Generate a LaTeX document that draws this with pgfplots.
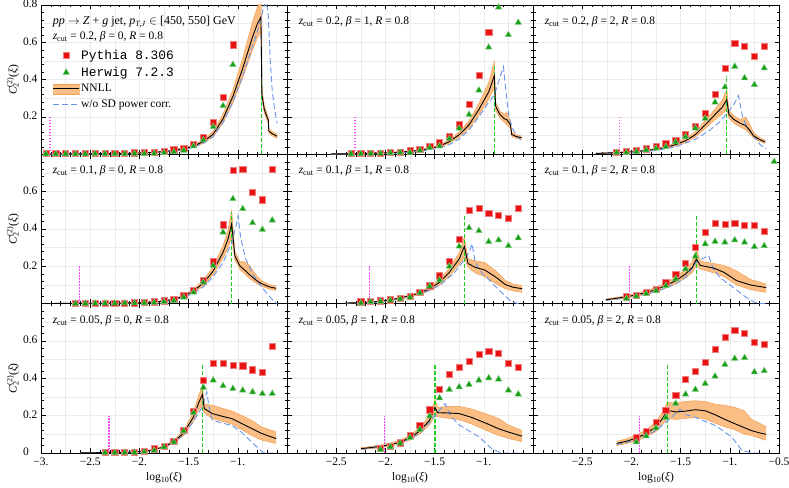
\documentclass[border=0pt]{standalone}
\usepackage{fontspec}
\setmainfont{Liberation Serif}
\setmonofont{Liberation Mono}[Scale=1.12]
\usepackage{pgfplots}
\usepackage{pgfplotstable}
\pgfplotsset{compat=1.18}
\usepgfplotslibrary{groupplots,fillbetween}
\definecolor{pyred}{RGB}{232,18,18}
\definecolor{hwgreen}{RGB}{20,158,20}
\definecolor{bandfill}{RGB}{250,190,132}
\definecolor{bandedge}{RGB}{244,158,82}
\definecolor{sdblue}{RGB}{104,150,236}
\definecolor{cutgreen}{RGB}{30,210,30}
\definecolor{npmag}{RGB}{255,70,255}
\newcommand{\myf}{\fontsize{11.5}{13.5}\selectfont}

% ---------- panel A: zcut=0.2, beta=0
\pgfplotstableread{
x y lo hi
-2.90 0.002 0.001 0.003
-2.60 0.003 0.002 0.004
-2.30 0.004 0.003 0.005
-2.10 0.006 0.005 0.007
-1.95 0.008 0.007 0.010
-1.85 0.011 0.009 0.013
-1.75 0.015 0.013 0.018
-1.65 0.021 0.018 0.025
-1.55 0.030 0.026 0.035
-1.45 0.044 0.038 0.051
-1.35 0.068 0.059 0.078
-1.25 0.108 0.095 0.123
-1.15 0.190 0.168 0.215
-1.05 0.310 0.276 0.345
-0.95 0.460 0.410 0.515
-0.85 0.630 0.560 0.710
-0.80 0.700 0.625 0.790
-0.765 0.735 0.660 0.840
-0.755 0.320 0.295 0.350
-0.73 0.240 0.222 0.260
-0.70 0.195 0.180 0.212
-0.69 0.185 0.170 0.200
-0.685 0.125 0.113 0.138
-0.65 0.110 0.099 0.122
-0.60 0.097 0.086 0.108
}\nnllA
\pgfplotstableread{
x y
-2.90 0.001
-2.30 0.003
-2.00 0.006
-1.75 0.012
-1.55 0.025
-1.45 0.037
-1.35 0.058
-1.25 0.095
-1.15 0.170
-1.05 0.280
-0.95 0.420
-0.85 0.580
-0.80 0.660
-0.76 0.740
-0.73 0.800
-0.71 0.820
-0.69 0.740
-0.67 0.500
-0.65 0.340
-0.62 0.220
-0.60 0.165
}\blueA
\pgfplotstableread{
x y
-2.95 0.004
-2.85 0.004
-2.75 0.004
-2.65 0.004
-2.55 0.004
-2.45 0.005
-2.35 0.005
-2.25 0.005
-2.15 0.006
-2.05 0.008
-1.95 0.010
-1.85 0.012
-1.75 0.018
-1.65 0.024
-1.55 0.032
-1.45 0.055
-1.35 0.092
-1.25 0.170
-1.15 0.305
-1.05 0.587
}\pyA
\pgfplotstableread{
x y
-2.95 0.002
-2.85 0.002
-2.75 0.002
-2.65 0.002
-2.55 0.002
-2.45 0.003
-2.35 0.003
-2.25 0.003
-2.15 0.003
-2.05 0.004
-1.95 0.004
-1.85 0.005
-1.75 0.008
-1.65 0.013
-1.55 0.021
-1.45 0.044
-1.35 0.076
-1.25 0.147
-1.15 0.260
-1.05 0.480
}\hwA

% ---------- panel B: zcut=0.2, beta=1
\pgfplotstableread{
x y lo hi
-2.55 0.002 0.001 0.003
-2.30 0.004 0.003 0.005
-2.05 0.007 0.006 0.008
-1.95 0.009 0.008 0.011
-1.85 0.012 0.010 0.014
-1.75 0.016 0.014 0.019
-1.65 0.022 0.019 0.025
-1.55 0.031 0.027 0.035
-1.45 0.044 0.038 0.050
-1.35 0.068 0.059 0.078
-1.25 0.105 0.092 0.120
-1.15 0.158 0.139 0.180
-1.05 0.240 0.211 0.273
-0.95 0.335 0.295 0.385
-0.893 0.421 0.356 0.498
-0.88 0.258 0.235 0.280
-0.836 0.213 0.195 0.230
-0.79 0.190 0.170 0.215
-0.768 0.187 0.160 0.225
-0.73 0.160 0.140 0.178
-0.717 0.107 0.097 0.118
-0.67 0.095 0.086 0.105
-0.616 0.089 0.080 0.098
}\nnllB
\pgfplotstableread{
x y
-2.55 0.001
-2.20 0.003
-1.90 0.007
-1.65 0.015
-1.45 0.033
-1.35 0.052
-1.25 0.082
-1.15 0.130
-1.05 0.200
-0.95 0.280
-0.893 0.316
-0.85 0.390
-0.80 0.470
-0.78 0.360
-0.75 0.220
-0.717 0.150
-0.68 0.110
-0.616 0.071
}\blueB
\pgfplotstableread{
x y
-2.35 0.004
-2.25 0.004
-2.15 0.005
-2.05 0.007
-1.95 0.009
-1.85 0.012
-1.75 0.020
-1.65 0.028
-1.55 0.044
-1.45 0.062
-1.35 0.098
-1.25 0.158
-1.15 0.267
-1.05 0.425
-0.95 0.654
}\pyB
\pgfplotstableread{
x y
-2.35 0.002
-2.25 0.003
-2.15 0.004
-2.05 0.005
-1.95 0.007
-1.85 0.009
-1.75 0.010
-1.65 0.022
-1.55 0.035
-1.45 0.044
-1.35 0.084
-1.25 0.139
-1.15 0.213
-1.05 0.343
-0.95 0.573
-0.85 0.788
-0.75 0.640
-0.65 0.706
}\hwB

% ---------- panel C: zcut=0.2, beta=2
\pgfplotstableread{
x y lo hi
-2.36 0.005 0.004 0.006
-2.15 0.009 0.008 0.011
-1.95 0.015 0.013 0.018
-1.75 0.027 0.023 0.031
-1.65 0.038 0.033 0.044
-1.55 0.052 0.045 0.060
-1.45 0.073 0.064 0.084
-1.35 0.105 0.092 0.120
-1.25 0.158 0.138 0.180
-1.15 0.213 0.186 0.243
-1.08 0.250 0.215 0.287
-1.03 0.293 0.240 0.347
-1.01 0.215 0.195 0.235
-0.96 0.187 0.168 0.207
-0.89 0.165 0.145 0.185
-0.84 0.155 0.133 0.200
-0.80 0.130 0.110 0.165
-0.76 0.100 0.088 0.118
-0.70 0.080 0.070 0.090
-0.64 0.066 0.058 0.075
}\nnllC
\pgfplotstableread{
x y
-2.36 0.004
-2.00 0.010
-1.75 0.020
-1.55 0.040
-1.35 0.080
-1.20 0.130
-1.10 0.175
-1.03 0.220
-0.96 0.265
-0.913 0.315
-0.87 0.200
-0.83 0.150
-0.76 0.100
-0.69 0.050
-0.63 0.030
}\blueC
\pgfplotstableread{
x y
-2.15 0.012
-2.05 0.016
-1.95 0.023
-1.85 0.030
-1.75 0.042
-1.65 0.057
-1.55 0.076
-1.45 0.105
-1.35 0.151
-1.25 0.222
-1.15 0.320
-1.05 0.460
-0.95 0.595
-0.85 0.581
-0.75 0.524
-0.65 0.581
}\pyC
\pgfplotstableread{
x y
-2.15 0.009
-2.05 0.009
-1.95 0.014
-1.85 0.023
-1.75 0.032
-1.65 0.041
-1.55 0.066
-1.45 0.094
-1.35 0.140
-1.25 0.192
-1.15 0.279
-1.05 0.360
-0.95 0.471
-0.85 0.409
-0.75 0.373
-0.65 0.462
}\hwC

% ---------- panel D: zcut=0.1, beta=0
\pgfplotstableread{
x y lo hi
-2.90 0.001 0.0005 0.002
-2.50 0.002 0.0015 0.003
-2.20 0.003 0.002 0.004
-2.00 0.005 0.004 0.006
-1.85 0.009 0.008 0.011
-1.75 0.014 0.012 0.016
-1.65 0.024 0.021 0.027
-1.55 0.040 0.035 0.045
-1.45 0.068 0.060 0.077
-1.35 0.110 0.097 0.125
-1.25 0.175 0.155 0.198
-1.15 0.275 0.243 0.310
-1.10 0.345 0.298 0.395
-1.062 0.427 0.355 0.498
-1.03 0.257 0.235 0.280
-0.98 0.203 0.185 0.225
-0.93 0.180 0.160 0.225
-0.88 0.155 0.135 0.205
-0.85 0.141 0.123 0.180
-0.80 0.120 0.105 0.145
-0.75 0.105 0.092 0.120
-0.68 0.090 0.078 0.103
-0.61 0.082 0.070 0.094
}\nnllD
\pgfplotstableread{
x y
-2.90 0.001
-2.20 0.003
-1.90 0.006
-1.70 0.014
-1.55 0.032
-1.45 0.055
-1.35 0.090
-1.25 0.145
-1.15 0.220
-1.06 0.330
-1.02 0.410
-0.997 0.470
-0.97 0.350
-0.92 0.240
-0.85 0.160
-0.75 0.085
-0.68 0.040
-0.63 0.010
-0.60 0.000
}\blueD
\pgfplotstableread{
x y
-2.65 0.003
-2.55 0.003
-2.45 0.003
-2.35 0.003
-2.25 0.004
-2.15 0.004
-2.05 0.005
-1.95 0.007
-1.85 0.010
-1.75 0.016
-1.65 0.024
-1.55 0.043
-1.45 0.070
-1.35 0.123
-1.25 0.225
-1.15 0.423
-1.05 0.716
-0.95 0.718
-0.85 0.597
-0.75 0.557
-0.65 0.720
}\pyD
\pgfplotstableread{
x y
-2.65 0.001
-2.55 0.001
-2.45 0.002
-2.35 0.002
-2.25 0.002
-2.15 0.003
-2.05 0.003
-1.95 0.004
-1.85 0.006
-1.75 0.010
-1.65 0.016
-1.55 0.034
-1.45 0.061
-1.35 0.114
-1.25 0.204
-1.15 0.383
-1.05 0.562
-0.95 0.508
-0.85 0.433
-0.75 0.397
-0.65 0.447
}\hwD

% ---------- panel E: zcut=0.1, beta=1
\pgfplotstableread{
x y lo hi
-2.41 0.003 0.002 0.004
-2.20 0.007 0.006 0.008
-2.05 0.013 0.011 0.015
-1.95 0.021 0.018 0.024
-1.85 0.030 0.026 0.034
-1.75 0.043 0.038 0.048
-1.65 0.057 0.050 0.064
-1.55 0.080 0.070 0.090
-1.45 0.114 0.100 0.129
-1.35 0.168 0.148 0.190
-1.25 0.239 0.210 0.272
-1.198 0.307 0.248 0.355
-1.16 0.215 0.195 0.240
-1.09 0.195 0.165 0.230
-0.99 0.180 0.145 0.220
-0.88 0.143 0.108 0.177
-0.78 0.102 0.080 0.125
-0.70 0.088 0.068 0.105
-0.61 0.080 0.060 0.097
}\nnllE
\pgfplotstableread{
x y
-2.41 0.002
-2.10 0.008
-1.85 0.022
-1.65 0.047
-1.45 0.097
-1.30 0.165
-1.198 0.235
-1.15 0.275
-1.12 0.320
-1.09 0.230
-1.05 0.180
-0.97 0.140
-0.89 0.096
-0.80 0.050
-0.72 0.010
-0.65 0.000
-0.61 0.000
}\blueE
\pgfplotstableread{
x y
-2.25 0.010
-2.15 0.012
-2.05 0.016
-1.95 0.021
-1.85 0.030
-1.75 0.041
-1.65 0.061
-1.55 0.096
-1.45 0.150
-1.35 0.228
-1.25 0.343
-1.15 0.500
-1.05 0.511
-0.95 0.486
-0.85 0.472
-0.75 0.457
-0.65 0.513
}\pyE
\pgfplotstableread{
x y
-2.25 0.003
-2.15 0.010
-2.05 0.012
-1.95 0.018
-1.85 0.025
-1.75 0.034
-1.65 0.057
-1.55 0.093
-1.45 0.127
-1.35 0.200
-1.25 0.307
-1.15 0.406
-1.05 0.390
-0.95 0.332
-0.85 0.341
-0.75 0.310
-0.65 0.352
}\hwE

% ---------- panel F: zcut=0.1, beta=2
\pgfplotstableread{
x y lo hi
-2.26 0.021 0.017 0.025
-2.15 0.029 0.024 0.034
-2.05 0.037 0.031 0.043
-1.95 0.047 0.040 0.055
-1.85 0.060 0.051 0.070
-1.75 0.075 0.064 0.087
-1.65 0.097 0.083 0.112
-1.55 0.123 0.106 0.142
-1.45 0.159 0.138 0.182
-1.38 0.195 0.168 0.228
-1.34 0.239 0.205 0.295
-1.30 0.205 0.185 0.228
-1.16 0.190 0.165 0.215
-1.06 0.168 0.145 0.205
-0.93 0.123 0.100 0.175
-0.79 0.100 0.075 0.130
-0.63 0.086 0.060 0.105
}\nnllF
\pgfplotstableread{
x y
-2.26 0.018
-2.00 0.033
-1.75 0.063
-1.55 0.105
-1.45 0.140
-1.34 0.221
-1.30 0.235
-1.215 0.257
-1.17 0.190
-1.10 0.140
-0.96 0.085
-0.85 0.040
-0.76 0.010
-0.70 0.000
-0.63 0.000
}\blueF
\pgfplotstableread{
x y
-2.05 0.037
-1.95 0.046
-1.85 0.060
-1.75 0.078
-1.65 0.114
-1.55 0.157
-1.45 0.218
-1.35 0.302
-1.25 0.382
-1.15 0.430
-1.05 0.427
-0.95 0.430
-0.85 0.418
-0.75 0.420
-0.65 0.390
}\pyF
\pgfplotstableread{
x y
-2.05 0.028
-1.95 0.039
-1.85 0.053
-1.75 0.069
-1.65 0.096
-1.55 0.132
-1.45 0.186
-1.35 0.254
-1.25 0.320
-1.15 0.333
-1.05 0.329
-0.95 0.341
-0.85 0.329
-0.75 0.305
-0.65 0.310
-0.55 0.761
}\hwF

% ---------- panel G: zcut=0.05, beta=0
\pgfplotstableread{
x y lo hi
-2.60 0.001 0.0005 0.002
-2.30 0.002 0.001 0.003
-2.10 0.004 0.003 0.005
-1.95 0.009 0.007 0.011
-1.85 0.018 0.015 0.021
-1.75 0.033 0.029 0.038
-1.65 0.060 0.053 0.068
-1.55 0.107 0.095 0.120
-1.45 0.193 0.170 0.218
-1.40 0.265 0.230 0.305
-1.36 0.313 0.256 0.363
-1.34 0.238 0.215 0.262
-1.26 0.211 0.184 0.256
-1.16 0.197 0.170 0.240
-1.06 0.184 0.155 0.225
-0.96 0.158 0.125 0.200
-0.86 0.131 0.094 0.175
-0.76 0.105 0.070 0.140
-0.61 0.077 0.050 0.113
}\nnllG
\pgfplotstableread{
x y
-2.60 0.000
-2.20 0.002
-1.95 0.007
-1.75 0.028
-1.55 0.095
-1.45 0.170
-1.36 0.247
-1.315 0.327
-1.29 0.240
-1.26 0.176
-1.16 0.160
-1.06 0.148
-0.96 0.110
-0.86 0.059
-0.75 0.005
-0.70 0.000
-0.61 0.000
}\blueG
\pgfplotstableread{
x y
-2.35 0.002
-2.25 0.002
-2.15 0.004
-2.05 0.005
-1.95 0.009
-1.85 0.023
-1.75 0.038
-1.65 0.065
-1.55 0.122
-1.45 0.225
-1.35 0.390
-1.25 0.479
-1.15 0.479
-1.05 0.470
-0.95 0.467
-0.85 0.446
-0.75 0.434
-0.65 0.572
}\pyG
\pgfplotstableread{
x y
-2.35 0.001
-2.25 0.001
-2.15 0.002
-2.05 0.003
-1.95 0.006
-1.85 0.014
-1.75 0.032
-1.65 0.059
-1.55 0.118
-1.45 0.215
-1.35 0.351
-1.25 0.390
-1.15 0.360
-1.05 0.345
-0.95 0.336
-0.85 0.327
-0.75 0.318
-0.65 0.318
}\hwG

% ---------- panel H: zcut=0.05, beta=1
\pgfplotstableread{
x y lo hi
-2.25 0.023 0.018 0.028
-2.15 0.029 0.023 0.035
-2.05 0.036 0.029 0.043
-1.95 0.045 0.037 0.054
-1.85 0.058 0.049 0.068
-1.75 0.082 0.070 0.095
-1.65 0.118 0.102 0.135
-1.55 0.176 0.152 0.200
-1.496 0.243 0.202 0.286
-1.47 0.216 0.195 0.245
-1.35 0.214 0.185 0.250
-1.25 0.211 0.178 0.250
-1.12 0.190 0.155 0.235
-0.98 0.160 0.122 0.210
-0.85 0.130 0.094 0.185
-0.75 0.112 0.078 0.150
-0.61 0.090 0.060 0.120
}\nnllH
\pgfplotstableread{
x y
-2.25 0.020
-2.05 0.032
-1.85 0.052
-1.65 0.105
-1.496 0.200
-1.394 0.265
-1.34 0.200
-1.25 0.150
-1.05 0.087
-0.92 0.023
-0.82 0.000
-0.61 0.000
}\blueH
\pgfplotstableread{
x y
-2.05 0.027
-1.95 0.037
-1.85 0.055
-1.75 0.093
-1.65 0.150
-1.55 0.232
-1.45 0.341
-1.35 0.422
-1.25 0.458
-1.15 0.490
-1.05 0.529
-0.95 0.547
-0.85 0.533
-0.75 0.479
-0.65 0.458
}\pyH
\pgfplotstableread{
x y
-2.05 0.018
-1.95 0.032
-1.85 0.052
-1.75 0.082
-1.65 0.126
-1.55 0.198
-1.45 0.295
-1.35 0.340
-1.25 0.354
-1.15 0.367
-1.05 0.390
-0.95 0.402
-0.85 0.395
-0.75 0.336
-0.65 0.315
}\hwH

% ---------- panel I: zcut=0.05, beta=2
\pgfplotstableread{
x y lo hi
-2.15 0.051 0.040 0.062
-2.05 0.063 0.050 0.076
-1.95 0.080 0.065 0.096
-1.85 0.104 0.086 0.124
-1.75 0.140 0.115 0.166
-1.69 0.180 0.150 0.215
-1.635 0.229 0.184 0.272
-1.55 0.220 0.180 0.270
-1.45 0.224 0.185 0.276
-1.35 0.232 0.190 0.280
-1.25 0.226 0.182 0.276
-1.15 0.205 0.160 0.262
-1.05 0.180 0.140 0.255
-0.95 0.157 0.125 0.245
-0.85 0.135 0.100 0.225
-0.78 0.120 0.094 0.180
-0.70 0.108 0.080 0.160
-0.63 0.100 0.068 0.140
}\nnllI
\pgfplotstableread{
x y
-2.15 0.045
-1.95 0.070
-1.75 0.120
-1.635 0.172
-1.506 0.234
-1.45 0.205
-1.36 0.193
-1.15 0.148
-0.98 0.086
-0.88 0.015
-0.78 0.000
-0.63 0.000
}\blueI
\pgfplotstableread{
x y
-1.95 0.082
-1.85 0.116
-1.75 0.166
-1.65 0.229
-1.55 0.311
-1.45 0.395
-1.35 0.440
-1.25 0.488
-1.15 0.554
-1.05 0.622
-0.95 0.658
-0.85 0.640
-0.75 0.595
-0.65 0.583
}\pyI
\pgfplotstableread{
x y
-1.95 0.059
-1.85 0.091
-1.75 0.134
-1.65 0.190
-1.55 0.265
-1.45 0.315
-1.35 0.340
-1.25 0.372
-1.15 0.411
-1.05 0.474
-0.95 0.506
-0.85 0.510
-0.75 0.434
-0.65 0.440
}\hwI

% #1 nnll, #2 blue, #3 pythia, #4 herwig, #5 magenta x, #6 cut x, #7 cut height, #8 id
\newcommand{\panel}[8]{%
\addplot[draw=none, name path=up#8, forget plot] table[x=x,y=hi]{#1};
\addplot[draw=none, name path=lo#8, forget plot] table[x=x,y=lo]{#1};
\addplot[fill=bandfill, draw=none, forget plot] fill between[of=up#8 and lo#8];
\addplot[bandedge, line width=0.5pt, forget plot] table[x=x,y=hi]{#1};
\addplot[bandedge, line width=0.5pt, forget plot] table[x=x,y=lo]{#1};
\addplot[npmag, line width=1.3pt, dash pattern=on 1.6pt off 1.4pt, forget plot] coordinates {(#5,0) (#5,0.2)};
\addplot[cutgreen, line width=1.1pt, dash pattern=on 4pt off 2pt, forget plot] coordinates {(#6,0) (#6,#7)};
\addplot[sdblue, line width=0.9pt, dash pattern=on 6pt off 3pt, forget plot] table[x=x,y=y]{#2};
\addplot[black, line width=0.9pt, forget plot] table[x=x,y=y]{#1};
\addplot[only marks, mark=square*, mark size=3.1pt, mark options={draw=pyred!55!white, fill=pyred, line width=0.5pt}, forget plot] table[x=x,y=y]{#3};
\addplot[only marks, mark=triangle*, mark size=3.7pt, mark options={draw=hwgreen!55!white, fill=hwgreen, line width=0.5pt}, forget plot] table[x=x,y=y]{#4};
}
\newcommand{\plabel}[1]{\node[anchor=west, font=\myf, inner sep=0pt] at (axis description cs:0.047,0.888) {#1};}

\begin{document}
\begin{tikzpicture}
\begin{groupplot}[
  group style={group name=G, group size=3 by 3, horizontal sep=0pt, vertical sep=0pt},
  width=246pt, height=149.33pt, scale only axis,
  xmin=-3, xmax=-0.5, ymin=0, ymax=0.8,
  xtick={-3,-2.5,-2,-1.5,-1,-0.5},
  ytick={0,0.2,0.4,0.6,0.8},
  minor x tick num=4, minor y tick num=4,
  tick align=inside, tick pos=both,
  major tick length=4.5pt, minor tick length=2.5pt,
  every tick/.style={black, line width=0.5pt},
  axis line style={line width=0.6pt},
  grid=major, major grid style={gray!16, line width=0.4pt},
  extra x ticks={-2.75,-2.25,-1.75,-1.25,-0.75}, extra x tick labels={},
  extra y ticks={0.1,0.3,0.5,0.7}, extra y tick labels={},
  extra tick style={major tick length=0pt, grid=major},
  tick label style={font=\myf},
  xticklabel style={yshift=-1pt},
  yticklabel style={yshift=0.8pt},
  every axis y label/.style={at={(axis description cs:-0.114,0.5)}, rotate=90, anchor=center, font=\myf},
  every axis x label/.style={at={(axis description cs:0.5,-0.168)}, anchor=center, font=\myf},
  xticklabels={}, yticklabels={},
]
% ---- row 1
\nextgroupplot[yticklabels={{},0.2,0.4,0.6,0.8},
  ylabel={\textit{C}\makebox[0pt][l]{\textsubscript{2}}\textsuperscript{(2)}(\textit{ξ})},
  legend cell align=left,
  legend style={draw=none, fill=none, at={(axis description cs:0.047,0.712)}, anchor=north west, inner sep=0pt, row sep=3.5pt, font=\myf, nodes={inner sep=1.5pt}}]
\panel{\nnllA}{\blueA}{\pyA}{\hwA}{-2.91}{-0.76}{0.48}{A}
\node[anchor=west, font=\fontsize{12}{14}\selectfont, inner sep=0pt] at (axis description cs:0.047,0.887) {\textit{pp} $\rightarrow$ \textit{Z} + \textit{g} jet, \textit{p}\textsubscript{\textit{T},\textit{J}} $\in$ [450, 550] GeV};
\node[anchor=west, font=\myf, inner sep=0pt] at (axis description cs:0.047,0.785) {\textit{z}\textsubscript{cut} = 0.2, \textit{β} = 0, \textit{R} = 0.8};
\addlegendimage{legend image code/.code={\draw[mark=square*, mark size=3.1pt, mark options={draw=pyred!55!white, fill=pyred, line width=0.5pt}] plot coordinates {(13pt,0pt)};}}
\addlegendentry{\texttt{Pythia 8.306}}
\addlegendimage{legend image code/.code={\draw[mark=triangle*, mark size=3.7pt, mark options={draw=hwgreen!55!white, fill=hwgreen, line width=0.5pt}] plot coordinates {(13pt,0pt)};}}
\addlegendentry{\texttt{Herwig 7.2.3}}
\addlegendimage{legend image code/.code={\fill[bandfill] (0pt,-5pt) rectangle (26pt,5pt); \draw[bandedge, line width=0.5pt] (0pt,-5pt) -- (26pt,-5pt) (0pt,5pt) -- (26pt,5pt); \draw[black, line width=0.9pt] (0pt,0pt) -- (26pt,0pt);}}
\addlegendentry{NNLL}
\addlegendimage{legend image code/.code={\draw[sdblue, line width=0.9pt, dash pattern=on 6pt off 3pt] (0pt,0pt) -- (26pt,0pt);}}
\addlegendentry{w/o SD power corr.}

\nextgroupplot
\panel{\nnllB}{\blueB}{\pyB}{\hwB}{-2.31}{-0.893}{0.48}{B}
\plabel{\textit{z}\textsubscript{cut} = 0.2, \textit{β} = 1, \textit{R} = 0.8}

\nextgroupplot
\panel{\nnllC}{\blueC}{\pyC}{\hwC}{-2.12}{-1.03}{0.42}{C}
\plabel{\textit{z}\textsubscript{cut} = 0.2, \textit{β} = 2, \textit{R} = 0.8}

% ---- row 2
\nextgroupplot[yticklabels={{},0.2,0.4,0.6,{}},
  ylabel={\textit{C}\makebox[0pt][l]{\textsubscript{2}}\textsuperscript{(2)}(\textit{ξ})}]
\panel{\nnllD}{\blueD}{\pyD}{\hwD}{-2.61}{-1.062}{0.49}{D}
\plabel{\textit{z}\textsubscript{cut} = 0.1, \textit{β} = 0, \textit{R} = 0.8}

\nextgroupplot
\panel{\nnllE}{\blueE}{\pyE}{\hwE}{-2.16}{-1.198}{0.48}{E}
\plabel{\textit{z}\textsubscript{cut} = 0.1, \textit{β} = 1, \textit{R} = 0.8}

\nextgroupplot
\panel{\nnllF}{\blueF}{\pyF}{\hwF}{-2.02}{-1.34}{0.48}{F}
\plabel{\textit{z}\textsubscript{cut} = 0.1, \textit{β} = 2, \textit{R} = 0.8}

% ---- row 3
\nextgroupplot[yticklabels={0\phantom{.0},0.2,0.4,0.6,{}},
  xticklabels={−3.,−2.5,−2.,−1.5,−1.,{}},
  xlabel={log\textsubscript{10}(\textit{ξ})},
  ylabel={\textit{C}\makebox[0pt][l]{\textsubscript{2}}\textsuperscript{(2)}(\textit{ξ})}]
\panel{\nnllG}{\blueG}{\pyG}{\hwG}{-2.31}{-1.36}{0.48}{G}
\plabel{\textit{z}\textsubscript{cut} = 0.05, \textit{β} = 0, \textit{R} = 0.8}

\nextgroupplot[xticklabels={{},−2.5,−2.,−1.5,−1.,{}},
  xlabel={log\textsubscript{10}(\textit{ξ})}]
\panel{\nnllH}{\blueH}{\pyH}{\hwH}{-2.01}{-1.496}{0.48}{H}
\plabel{\textit{z}\textsubscript{cut} = 0.05, \textit{β} = 1, \textit{R} = 0.8}

\nextgroupplot[xticklabels={{},−2.5,−2.,−1.5,−1.,−0.5},
  xlabel={log\textsubscript{10}(\textit{ξ})}]
\panel{\nnllI}{\blueI}{\pyI}{\hwI}{-1.92}{-1.635}{0.48}{I}
\plabel{\textit{z}\textsubscript{cut} = 0.05, \textit{β} = 2, \textit{R} = 0.8}
\end{groupplot}
\pgfresetboundingbox
\path ([xshift=-41pt,yshift=-35pt]G c1r3.south west) rectangle ([xshift=10pt,yshift=5pt]G c3r1.north east);
\end{tikzpicture}
\end{document}
